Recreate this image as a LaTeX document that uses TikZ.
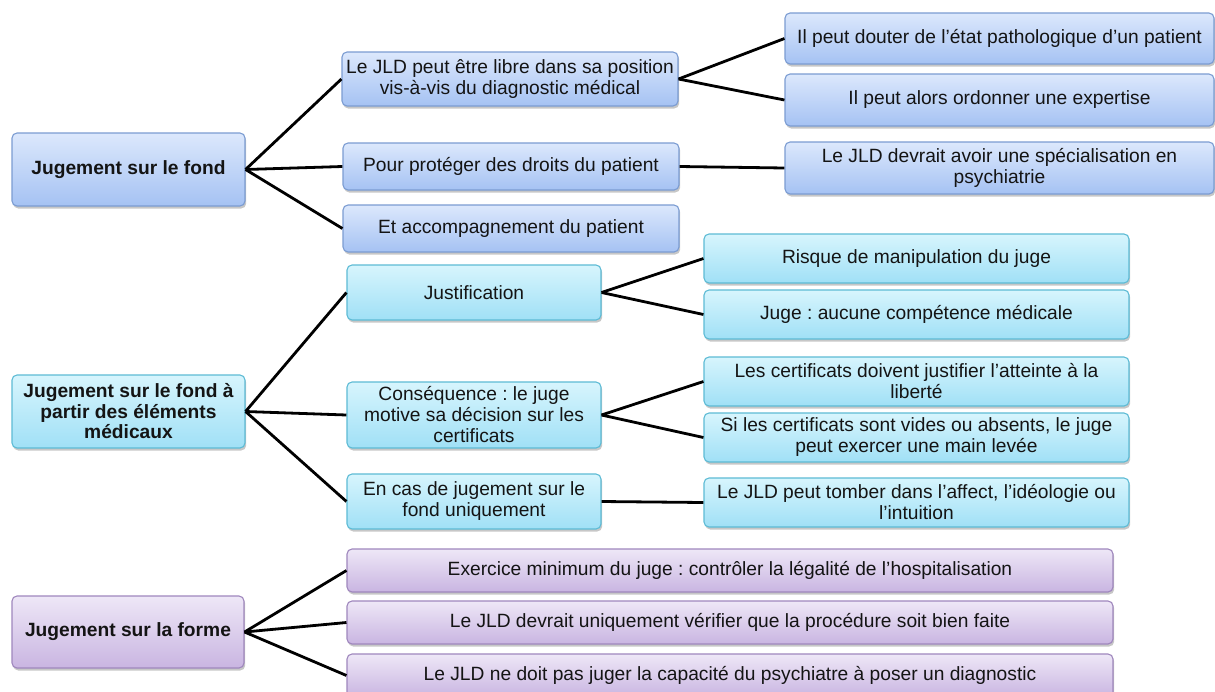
\documentclass[tikz,border=0pt]{standalone}
\usepackage{fontspec}
\setmainfont{Liberation Sans}
\usetikzlibrary{shadows}
\frenchspacing
\definecolor{txt}{HTML}{141414}
\definecolor{bTop}{HTML}{DCE8FC}
\definecolor{bBot}{HTML}{A5C2F3}
\definecolor{bLine}{HTML}{7B9CD2}
\definecolor{cTop}{HTML}{D7F5FD}
\definecolor{cBot}{HTML}{A0E0F6}
\definecolor{cLine}{HTML}{5DBBD5}
\definecolor{pTop}{HTML}{EEE7F7}
\definecolor{pBot}{HTML}{C9B5E1}
\definecolor{pLine}{HTML}{9F87BD}
\tikzset{
  box/.style={rectangle, rounded corners=5pt, line width=1.1pt, inner sep=0pt,
    align=center, text=txt, font=\fontsize{19.2}{21}\selectfont,
    drop shadow={shadow xshift=1.2pt, shadow yshift=-2.5pt, fill=black, opacity=0.22}},
  bluebox/.style={box, draw=bLine, top color=bTop, bottom color=bBot},
  cyanbox/.style={box, draw=cLine, top color=cTop, bottom color=cBot},
  purplebox/.style={box, draw=pLine, top color=pTop, bottom color=pBot},
  rootbox/.style={font=\fontsize{19.2}{20.5}\selectfont\bfseries},
  link/.style={line width=2.8pt, black},
  sz/.style 2 args={minimum width=#1pt, minimum height=#2pt}
}
\begin{document}
\begin{tikzpicture}[x=1pt, y=-1pt]
\clip (0,0) rectangle (1215,691);
\fill[white] (0,0) rectangle (1215,691);
% --- Blue group
\node[bluebox, rootbox, sz={233}{73}] (A) at (128.5,169.5) {Jugement sur le fond};
\node[bluebox, sz={336}{54}] (A1) at (510,79) {Le JLD peut être libre dans sa position\\vis-à-vis du diagnostic médical};
\node[bluebox, sz={336}{47}] (A2) at (511,166.5) {Pour protéger des droits du patient};
\node[bluebox, sz={336}{47}] (A3) at (511,228.5) {Et accompagnement du patient};
\node[bluebox, sz={429}{51}] (A1a) at (999.5,38.5) {Il peut douter de l’état pathologique d’un patient};
\node[bluebox, sz={429}{52}] (A1b) at (999.5,100) {Il peut alors ordonner une expertise};
\node[bluebox, sz={429}{52}] (A2a) at (999.5,168) {Le JLD devrait avoir une spécialisation en\\psychiatrie};
% --- Cyan group
\node[cyanbox, rootbox, sz={233}{73}] (B) at (128.5,411.5) {Jugement sur le fond à\\partir des éléments\\médicaux};
\node[cyanbox, sz={254}{55}] (B1) at (474,292.5) {Justification};
\node[cyanbox, sz={254}{66}] (B2) at (474,415) {Conséquence : le juge\\motive sa décision sur les\\certificats};
\node[cyanbox, sz={254}{55}] (B3) at (474,501.5) {En cas de jugement sur le\\fond uniquement};
\node[cyanbox, sz={425}{49}] (B1a) at (916.5,258.5) {Risque de manipulation du juge};
\node[cyanbox, sz={425}{49}] (B1b) at (916.5,314.5) {Juge : aucune compétence médicale};
\node[cyanbox, sz={425}{49}] (B2a) at (916.5,381.5) {Les certificats doivent justifier l’atteinte à la\\liberté};
\node[cyanbox, sz={425}{49}] (B2b) at (916.5,437.5) {Si les certificats sont vides ou absents, le juge\\peut exercer une main levée};
\node[cyanbox, sz={425}{49}] (B3a) at (916.5,502.5) {Le JLD peut tomber dans l’affect, l’idéologie ou\\l’intuition};
% --- Purple group
\node[purplebox, rootbox, sz={232}{72}] (C) at (128,632) {Jugement sur la forme};
\node[purplebox, sz={766}{43}] (C1) at (730,570.5) {Exercice minimum du juge : contrôler la légalité de l’hospitalisation};
\node[purplebox, sz={766}{43}] (C2) at (730,622.5) {Le JLD devrait uniquement vérifier que la procédure soit bien faite};
\node[purplebox, sz={766}{43}] (C3) at (730,675.5) {Le JLD ne doit pas juger la capacité du psychiatre à poser un diagnostic};
% connectors
\draw[link] (A.east) -- (A1.west);
\draw[link] (A.east) -- (A2.west);
\draw[link] (A.east) -- (A3.west);
\draw[link] (A1.east) -- (A1a.west);
\draw[link] (A1.east) -- (A1b.west);
\draw[link] (A2.east) -- (A2a.west);
\draw[link] (B.east) -- (B1.west);
\draw[link] (B.east) -- (B2.west);
\draw[link] (B.east) -- (B3.west);
\draw[link] (B1.east) -- (B1a.west);
\draw[link] (B1.east) -- (B1b.west);
\draw[link] (B2.east) -- (B2a.west);
\draw[link] (B2.east) -- (B2b.west);
\draw[link] (B3.east) -- (B3a.west);
\draw[link] (C.east) -- (C1.west);
\draw[link] (C.east) -- (C2.west);
\draw[link] (C.east) -- (C3.west);
\end{tikzpicture}
\end{document}
